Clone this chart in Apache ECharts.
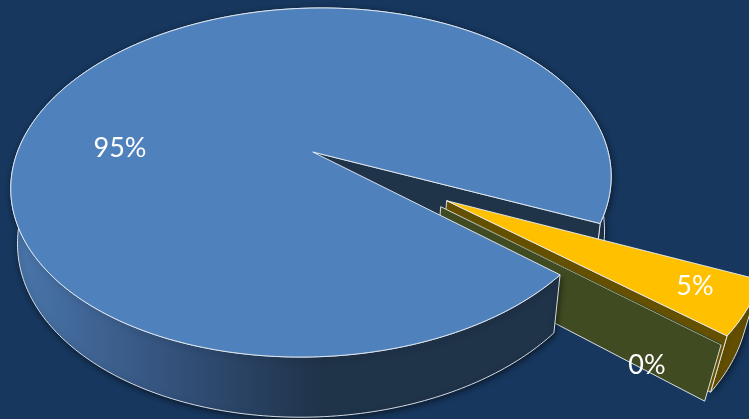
<!DOCTYPE html>
<html>
<head>
<meta charset="utf-8">
<style>html,body{margin:0;padding:0;background:#17375e}#c{width:749px;height:419px}</style>
<script src="https://cdn.jsdelivr.net/npm/echarts@6/dist/echarts.min.js"></script>
</head>
<body>
<div id="c"></div>
<script>
const categories = ['A', 'B', 'C'];
const values = [95.3, 4.6, 0.1];
const startAngle = 40.1;

const sliceColors = ['#4f81bd', '#ffc000', '#404b22'];
const wallColors = ['#1f3349', '#655000', '#404b22'];
const explode = [[0, 0], [0.4409, 0.274], [0.4204, 0.306]];
const depthShrink = [0.022, 0.034, 0.034];
const labelAt = [[120, 148], [695, 286], [647, 365]];

const cx = 311, cy = 152, Rx = 295.4, Ry = 169.2, k = 0.1748, D = 55.5, shear = 0.06, shearY = 182;
const total = values.reduce((a, b) => a + b, 0);
const edge = 'rgba(232,238,244,0.9)';
const shadow = {shadowBlur: 6, shadowColor: 'rgba(0,0,0,0.55)', shadowOffsetX: 1, shadowOffsetY: 2};

function project(X, Y, Z, m) {
  const w = 1 - k * Y + m * Z;
  const topY = cy + Ry * Y / (1 - k * Y);
  return [cx + Rx * X / w - shear * (topY - shearY), cy + (Ry * Y + D * Z) / w];
}
function arc(e, a0, a1, Z, m) {
  const n = Math.max(2, Math.ceil(Math.abs(a1 - a0)));
  const pts = [];
  for (let i = 0; i <= n; i++) {
    const t = (a0 + (a1 - a0) * i / n) * Math.PI / 180;
    pts.push(project(e[0] + Math.cos(t), e[1] + Math.sin(t), Z, m));
  }
  return pts;
}
function poly(points, fill, z2, extra) {
  return {type: 'polygon', z2: z2, shape: {points: points},
    style: Object.assign({fill: fill, stroke: edge, lineWidth: 1, lineJoin: 'round'}, extra || {})};
}
function rimOf(e, a0, a1, m) {
  return arc(e, a0, a1, 0, m).concat(arc(e, a0, a1, 1, m).reverse());
}
function renderSlice(params, api) {
  const i = params.dataIndex;
  let a0 = startAngle;
  for (let j = 0; j < i; j++) a0 += values[j] / total * 360;
  const a1 = a0 + api.value(0) / total * 360;
  const e = explode[i], m = depthShrink[i];
  const top = arc(e, a0, a1, 0, m);
  const apexTop = project(e[0], e[1], 0, m), apexBottom = project(e[0], e[1], 1, m);
  const base = i === 0 ? 20 : (i === 1 ? 2 : 6);
  const thin = api.value(0) / total < 0.005;
  const wallFill = {
    type: 'linear', global: true, x: 15, y: 0, x2: 320, y2: 0,
    colorStops: [{offset: 0, color: '#4a76ab'}, {offset: 0.55, color: '#324f78'}, {offset: 1, color: '#1f3349'}]
  };
  const cutAngle = a1 % 360;
  const cutTop = arc(e, cutAngle, cutAngle, 0, m)[0], cutBottom = arc(e, cutAngle, cutAngle, 1, m)[0];
  const children = [
    poly([apexTop, cutTop, cutBottom, apexBottom], wallColors[i], i === 0 ? 1 : base + 1),
    poly([apexTop].concat(top), sliceColors[i], base + 2, thin ? {stroke: null} : null),
    {type: 'text', z2: 40, x: labelAt[i][0], y: labelAt[i][1],
      style: {text: Math.round(api.value(0) / total * 100) + '%', fill: '#ffffff',
        font: '27px Lato, sans-serif', align: 'center', verticalAlign: 'middle',
        shadowBlur: 2, shadowColor: 'rgba(0,0,0,0.3)', shadowOffsetY: 1}}
  ];
  if (i === 0) {
    children.push(poly(rimOf(e, a0, 200, m), wallFill, base, shadow));
    children.push(poly(rimOf(e, 200, a1, m), wallColors[0], 0, shadow));
  } else if (!thin) {
    children.push(poly(rimOf(e, a0, a1, m), wallColors[i], base, shadow));
  }
  return {type: 'group', children: children};
}
const chart = echarts.init(document.getElementById('c'), null, {renderer: 'canvas'});
chart.setOption({
  animation: false,
  backgroundColor: '#17375e',
  series: [{
    type: 'custom',
    coordinateSystem: 'none',
    silent: true,
    renderItem: renderSlice,
    data: categories.map((name, i) => ({name: name, value: [values[i]]}))
  }]
});
</script>
</body>
</html>
